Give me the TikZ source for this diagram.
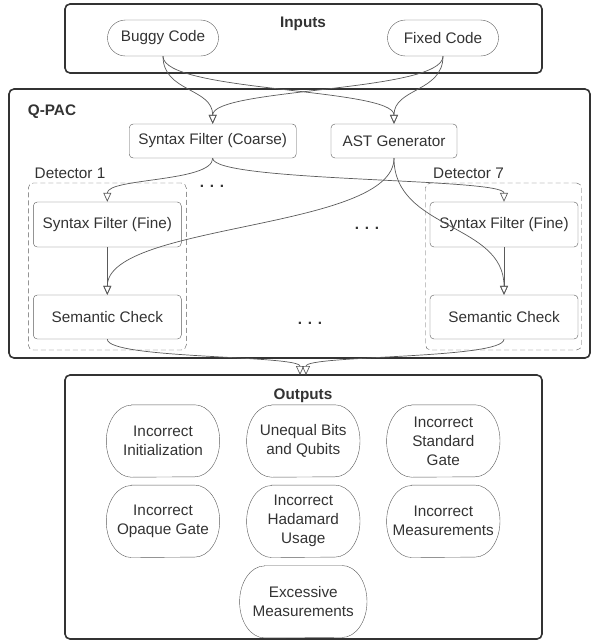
\documentclass[tikz,border=0pt]{standalone}
\usepackage{fontspec}
\setmainfont{Liberation Sans}
\usetikzlibrary{arrows.meta}
\definecolor{ink}{HTML}{333333}
\definecolor{wire}{HTML}{5A5A5A}

\begin{document}
\begin{tikzpicture}[x=1pt, y=1pt,
    font=\fontsize{15.3}{19}\selectfont, text=ink,
    panel/.style ={draw=ink, line width=1.6pt, rounded corners=5pt, inner sep=0pt},
    detector/.style ={draw=wire, dash pattern=on 5pt off 3pt, rounded corners=5pt, inner sep=0pt},
    source/.style ={draw=wire, rounded corners=18pt, minimum width=111pt, minimum height=36pt, inner sep=0pt},
    module/.style ={draw=wire, rounded corners=4pt, minimum width=148pt, minimum height=45pt, inner sep=0pt},
    outcome/.style ={minimum width=113pt, minimum height=72pt, align=center, inner sep=0pt},
    title/.style ={font=\fontsize{15.3}{19}\selectfont\bfseries},
    flow/.style ={draw=wire, line width=0.7pt, -{Triangle[open, length=9pt, width=8pt]}}]
   \useasboundingbox (0,0) rectangle (592,-641);
   % frames
   \node[panel, minimum width=477pt, minimum height=69pt] (inputs) at (303.5,-38.5) {};
   \node[panel, minimum width=581pt, minimum height=269pt] (qpac) at (299.5,-223.5) {};
   \node[panel, minimum width=477pt, minimum height=264pt] (outputs) at (303.5,-507) {};
   \node[detector, minimum width=158pt, minimum height=167pt] (det1) at (107.3,-266.5) {};
   \node[detector, minimum width=156pt, minimum height=167pt] (det7) at (503.5,-266.5) {};
   \node[title] (inputsLabel) at (303,-24) {Inputs};
   \node[title] (qpacLabel) at (52,-112) {Q-PAC};
   \node[title] (outputsLabel) at (303,-396) {Outputs};
   \node (det1Label) at (70,-173) {Detector 1};
   \node (det7Label) at (468.5,-173) {Detector 7};
   % inputs
   \node[source] (buggy) at (163,-38) {Buggy Code};
   \node[source] (fixed) at (443,-38) {Fixed Code};
   % pipeline
   \node[module, minimum width=167pt, minimum height=34pt] (coarse) at (212.7,-141) {Syntax Filter (Coarse)};
   \node[module, minimum width=126pt, minimum height=34pt] (ast) at (394,-141) {AST Generator};
   \node[module] (fine1) at (107.3,-224.5) {Syntax Filter (Fine)};
   \node[module, minimum height=44pt] (sem1) at (107.3,-317) {Semantic Check};
   \node[module] (fine7) at (504,-224.5) {Syntax Filter (Fine)};
   \node[module, minimum height=44pt] (sem7) at (504,-317) {Semantic Check};
   \node[title] (dotsA) at (212,-186) {. . .};
   \node[title] (dotsB) at (367,-228) {. . .};
   \node[title] (dotsC) at (310,-323) {. . .};
   \coordinate (outL) at (300,-375);
   \coordinate (outR) at (306,-375);
   % outputs
   \node[outcome] (init) at (163,-441) {Incorrect\\Initialization};
   \node[outcome] (unequal) at (303.3,-441) {Unequal Bits\\and Qubits};
   \node[outcome] (standard) at (443.3,-441) {Incorrect\\Standard\\Gate};
   \node[outcome] (opaque) at (163,-521.3) {Incorrect\\Opaque Gate};
   \node[outcome] (hadamard) at (303.3,-521.3) {Incorrect\\Hadamard\\Usage};
   \node[outcome] (measure) at (443.3,-521.3) {Incorrect\\Measurements};
   \node[outcome, minimum width=127pt] (excess) at (303.3,-601.7) {Excessive\\Measurements};
   \foreach \n in {init,unequal,standard,opaque,hadamard,measure,excess}
     \draw[wire] ([xshift=25pt]\n.north west) -- ([xshift=-25pt]\n.north east)
       arc[start angle=90, end angle=-90, x radius=25pt, y radius=36pt]
       -- ([xshift=25pt]\n.south west)
       arc[start angle=270, end angle=90, x radius=25pt, y radius=36pt] -- cycle;
   % connectors
   \draw[flow] (buggy.south) to[out=-90, in=90, distance=36] (coarse.north);
   \draw[flow] (buggy.south) to[out=-90, in=90, distance=36] (ast.north);
   \draw[flow] (fixed.south) to[out=-90, in=90, distance=36] (coarse.north);
   \draw[flow] (fixed.south) to[out=-90, in=90, distance=36] (ast.north);
   \draw[flow] (coarse.south) to[out=-90, in=90, distance=24] (fine1.north);
   \draw[flow] (coarse.south) to[out=-90, in=90, distance=24] (fine7.north);
   \draw[flow] (ast.south) to[out=-90, in=90, distance=72] (sem1.north);
   \draw[flow] (ast.south) to[out=-90, in=90, distance=72] (sem7.north);
   \draw[flow] (fine1) -- (sem1);
   \draw[flow] (fine7) -- (sem7);
   \draw[flow] (sem1.south) to[out=-90, in=90, distance=20] (outL);
   \draw[flow] (sem7.south) to[out=-90, in=90, distance=20] (outR);
\end{tikzpicture}
\end{document}
